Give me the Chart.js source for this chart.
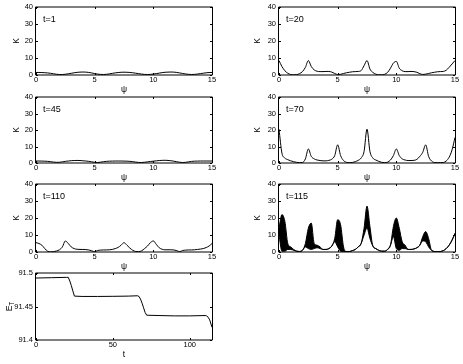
<!DOCTYPE html>
<html>
<head>
<meta charset="utf-8">
<script src="https://cdn.jsdelivr.net/npm/chart.js@4/dist/chart.umd.min.js"></script>
<style>
  body { margin: 0; background: #fff; }
  #wrap { position: relative; width: 463px; height: 364px; overflow: hidden; }
  canvas { position: absolute; }
</style>
</head>
<body>
<div id="wrap"></div>
<script>
// psi grid shared by the six K panels
const psi = [0,0.25,0.5,0.75,1,1.25,1.5,1.75,2,2.25,2.5,2.75,3,3.25,3.5,3.75,
  4,4.25,4.5,4.75,5,5.25,5.5,5.75,6,6.25,6.5,6.75,7,7.25,7.5,7.75,
  8,8.25,8.5,8.75,9,9.25,9.5,9.75,10,10.25,10.5,10.75,11,11.25,11.5,11.75,
  12,12.25,12.5,12.75,13,13.25,13.5,13.75,14,14.25,14.5,14.75,15]

const K1 = [1.5,1.5,1.45,1.35,1.2,1.0,0.7,0.45,
  0.3,0.3,0.45,0.7,1.0,1.3,1.55,1.7,
  1.75,1.7,1.5,1.2,0.85,0.55,0.35,0.3,
  0.4,0.65,0.95,1.25,1.45,1.6,1.65,1.6,
  1.5,1.3,1.05,0.8,0.55,0.35,0.3,0.35,
  0.55,0.8,1.1,1.4,1.6,1.7,1.75,1.7,
  1.5,1.2,0.9,0.6,0.4,0.3,0.35,0.55,
  0.8,1.05,1.3,1.45,1.5]

const K20 = [8.5,5.0,2.5,1.0,0.3,0.1,0.2,0.8,
  2.0,4.5,8.5,5.0,3.0,2.2,2.0,2.0,
  2.1,2.1,1.7,0.9,0.3,0.4,0.9,1.3,
  1.6,1.9,2.0,2.1,2.6,5.5,8.5,3.5,
  1.5,0.5,0.1,0.1,0.4,1.5,4.0,7.0,
  8.0,4.0,2.5,2.0,2.0,2.1,2.0,1.6,
  0.8,0.3,0.5,0.9,1.3,1.6,1.9,2.0,
  2.1,2.8,4.5,6.5,8.5]

const K45 = [1.2,1.2,1.15,1.1,1.0,0.8,0.55,0.4,
  0.45,0.7,1.0,1.2,1.4,1.5,1.55,1.5,
  1.35,1.2,1.0,0.7,0.4,0.3,0.5,0.8,
  1.0,1.1,1.15,1.2,1.2,1.2,1.15,1.1,
  1.0,0.8,0.55,0.35,0.3,0.45,0.7,0.9,
  1.1,1.3,1.5,1.6,1.65,1.55,1.35,1.1,
  0.75,0.45,0.3,0.4,0.7,0.95,1.1,1.15,
  1.2,1.2,1.2,1.2,1.2]

const K70 = [20.5,6.0,3.0,2.0,1.3,0.8,0.4,0.2,
  0.3,2.5,8.5,4.0,2.5,1.8,1.5,1.3,
  1.3,1.6,2.3,4.5,11.0,4.5,1.5,0.4,
  0.2,0.3,0.8,1.6,3.0,7.0,20.5,7.0,
  3.0,1.8,1.0,0.4,0.2,0.5,1.8,4.5,
  8.5,4.5,2.5,1.8,1.5,1.5,1.6,2.2,
  4.0,6.5,11.0,4.0,1.2,0.3,0.2,0.2,
  0.3,1.2,3.5,8.0,15.5]

const K110 = [5.5,5.0,4.0,2.0,0.4,0.1,0.2,0.6,
  1.3,3.0,6.5,5.0,3.0,2.0,1.6,1.5,
  1.5,1.4,1.2,0.7,0.2,0.9,1.1,1.2,
  1.2,1.3,1.5,2.0,2.7,4.0,5.5,4.0,
  2.3,1.0,0.3,0.2,0.7,2.0,3.5,5.5,
  6.5,4.5,2.5,1.6,1.3,1.3,1.3,1.2,
  0.8,0.2,0.9,1.1,1.2,1.2,1.3,1.5,
  1.7,2.0,2.6,3.5,5.0]

// t=115: lower curve and upper edge of the dark oscillating band
const K115lo = [10,0.5,0.5,1.5,1.5,1.0,0.5,0.3,
  1.0,3.0,2.0,1.5,2.0,2.5,2.0,1.5,
  1.5,2.0,3.5,6.0,3.0,0.5,0.3,0.3,
  0.3,0.8,1.5,3.0,5.0,10,14,8.0,
  3.5,2.0,1.0,0.5,0.5,1.5,4.0,9.0,
  2.0,1.0,2.0,2.0,1.5,1.5,1.8,2.5,
  4.0,6.5,6.0,3.0,1.0,0.3,0.2,0.3,
  0.8,2.0,4.0,7.0,11]

const K115hi = [14,22,18,5.0,3.0,1.5,0.5,0.3,
  1.0,5.0,14,17,5.0,4.0,3.0,1.5,
  1.5,2.0,3.5,8.0,19,16,3.0,0.3,
  0.3,0.8,1.5,3.0,5.0,14,27,15,
  3.5,2.0,1.0,0.5,0.5,1.5,4.0,15,
  20,14,6.0,4.0,1.5,1.5,1.8,2.5,
  4.0,9.0,12,8.0,1.0,0.3,0.2,0.3,
  0.8,2.0,4.0,7.0,11]

const timeLabels = ['t=1', 't=20', 't=45', 't=70', 't=110', 't=115']
const psiTicks = [0, 5, 10, 15]
const kTicks = [0, 10, 20, 30, 40]

// total energy vs time
const tE = [0,10,20,21,22,23,24,25,30,40,50,60,66,67,68,69,70,71,72,80,90,100,110,111,112,113,114.5]
const ET = [91.4925,91.493,91.4935,91.4935,91.488,91.481,91.473,91.4655,91.465,91.465,91.4652,91.4655,
  91.466,91.465,91.461,91.455,91.448,91.441,91.437,91.4365,91.436,91.436,91.4365,91.436,91.434,91.43,91.419]
const tTicks = [0, 50, 100]
const eTicks = [91.4, 91.45, 91.5]

const FONT = '"Liberation Sans", Arial, Helvetica, sans-serif'
Chart.defaults.font.family = FONT
Chart.defaults.font.size = 7.5
Chart.defaults.color = '#000'

const cols = [
  {canvasLeft: 0, plotLeft: 36, plotRight: 212},
  {canvasLeft: 241, plotLeft: 279, plotRight: 455}
]
const rows = [
  {top: 7, bottom: 75}, {top: 97, bottom: 163},
  {top: 184, bottom: 252}, {top: 273, bottom: 340}
]

const toXY = (xs, ys) => xs.map((x, i) => ({x: x, y: ys[i]}))

// box, inward ticks, panel text
const framePlugin = {
  id: 'frame',
  afterDraw(chart, args, opts) {
    const ctx = chart.ctx
    const {left, right, top, bottom} = chart.chartArea
    const xs = chart.scales.x, ys = chart.scales.y
    ctx.save()
    ctx.strokeStyle = '#000'
    ctx.lineWidth = 1
    ctx.beginPath()
    ctx.moveTo(left - 0.5, top); ctx.lineTo(right + 0.5, top)
    ctx.moveTo(left - 0.5, bottom); ctx.lineTo(right + 0.5, bottom)
    ctx.moveTo(left - 0.5, top); ctx.lineTo(left - 0.5, bottom)
    ctx.moveTo(right + 0.5, top); ctx.lineTo(right + 0.5, bottom)
    xs.ticks.forEach(t => {
      const px = Math.round(xs.getPixelForValue(t.value)) + 0.5
      ctx.moveTo(px, bottom); ctx.lineTo(px, bottom - 2)
      ctx.moveTo(px, top); ctx.lineTo(px, top + 2)
    })
    ys.ticks.forEach(t => {
      const py = Math.round(ys.getPixelForValue(t.value)) + 0.5
      ctx.moveTo(left, py); ctx.lineTo(left + 2, py)
      ctx.moveTo(right, py); ctx.lineTo(right - 2, py)
    })
    ctx.stroke()
    ctx.fillStyle = '#000'
    if (opts.label) {
      ctx.font = '9px ' + FONT
      ctx.textBaseline = 'middle'
      ctx.textAlign = 'left'
      ctx.fillText(opts.label, left + 7, top + 13)
    }
    if (opts.energy) {
      // rotated E with subscript T
      ctx.translate(10, (top + bottom) / 2)
      ctx.rotate(-Math.PI / 2)
      ctx.textBaseline = 'middle'
      ctx.textAlign = 'left'
      ctx.font = '8.5px ' + FONT
      const wE = ctx.measureText('E').width
      ctx.font = '6.5px ' + FONT
      const wT = ctx.measureText('T').width
      const x0 = -(wE + wT) / 2
      ctx.font = '8.5px ' + FONT
      ctx.fillText('E', x0, 0)
      ctx.font = '6.5px ' + FONT
      ctx.fillText('T', x0 + wE, 2.5)
    }
    ctx.restore()
  }
}

const wrap = document.getElementById('wrap')

const makePanel = (col, row, datasets, xAxis, yAxis, extra) => {
  const c = cols[col], r = rows[row]
  const padTop = 8, padRight = 10, boxH = 22
  const w = c.plotRight - c.canvasLeft + padRight
  const h = padTop + (r.bottom - r.top) + boxH
  const yW = c.plotLeft - c.canvasLeft
  const canvas = document.createElement('canvas')
  canvas.width = w
  canvas.height = h
  canvas.style.left = c.canvasLeft + 'px'
  canvas.style.top = (r.top - padTop) + 'px'
  canvas.style.width = w + 'px'
  canvas.style.height = h + 'px'
  wrap.appendChild(canvas)
  new Chart(canvas, {
    type: 'line',
    data: {datasets: datasets},
    options: {
      responsive: false,
      animation: false,
      layout: {padding: {top: padTop, right: padRight, left: 0, bottom: 0}},
      plugins: {legend: {display: false}, tooltip: {enabled: false}, frame: extra},
      elements: {point: {radius: 0}},
      scales: {
        x: {
          type: 'linear', min: xAxis.min, max: xAxis.max,
          afterBuildTicks: s => { s.ticks = xAxis.ticks.map(v => ({value: v})) },
          afterFit: s => { s.height = boxH },
          grid: {display: false, drawTicks: false},
          border: {display: false},
          ticks: {padding: 0.5, maxRotation: 0, autoSkip: false, callback: v => String(v)},
          title: {display: true, text: xAxis.title, font: {size: 8.5}, padding: {top: 0, bottom: 2}}
        },
        y: {
          type: 'linear', min: yAxis.min, max: yAxis.max,
          afterBuildTicks: s => { s.ticks = yAxis.ticks.map(v => ({value: v})) },
          afterFit: s => { s.width = yW },
          grid: {display: false, drawTicks: false},
          border: {display: false},
          ticks: {padding: 3, autoSkip: false, callback: v => String(v)},
          title: {display: !!yAxis.title, text: yAxis.title || '', font: {size: 8.5}, padding: {top: 12, bottom: 0}}
        }
      }
    },
    plugins: [framePlugin]
  })
}

const kLine = ys => ({
  data: toXY(psi, ys), borderColor: '#000', borderWidth: 1,
  cubicInterpolationMode: 'monotone', fill: false
})

const psiAxis = {min: 0, max: 15, ticks: psiTicks, title: 'ψ'}
const kAxis = {min: 0, max: 40, ticks: kTicks, title: 'K'}

makePanel(0, 0, [kLine(K1)], psiAxis, kAxis, {label: timeLabels[0]})
makePanel(1, 0, [kLine(K20)], psiAxis, kAxis, {label: timeLabels[1]})
makePanel(0, 1, [kLine(K45)], psiAxis, kAxis, {label: timeLabels[2]})
makePanel(1, 1, [kLine(K70)], psiAxis, kAxis, {label: timeLabels[3]})
makePanel(0, 2, [kLine(K110)], psiAxis, kAxis, {label: timeLabels[4]})
makePanel(1, 2, [
  kLine(K115lo),
  Object.assign(kLine(K115hi), {fill: '-1', backgroundColor: '#000'})
], psiAxis, kAxis, {label: timeLabels[5]})

makePanel(0, 3, [{
  data: toXY(tE, ET), borderColor: '#000', borderWidth: 1, tension: 0, fill: false
}], {min: 0, max: 114.5, ticks: tTicks, title: 't'},
   {min: 91.4, max: 91.5, ticks: eTicks, title: null}, {energy: true})
</script>
</body>
</html>
